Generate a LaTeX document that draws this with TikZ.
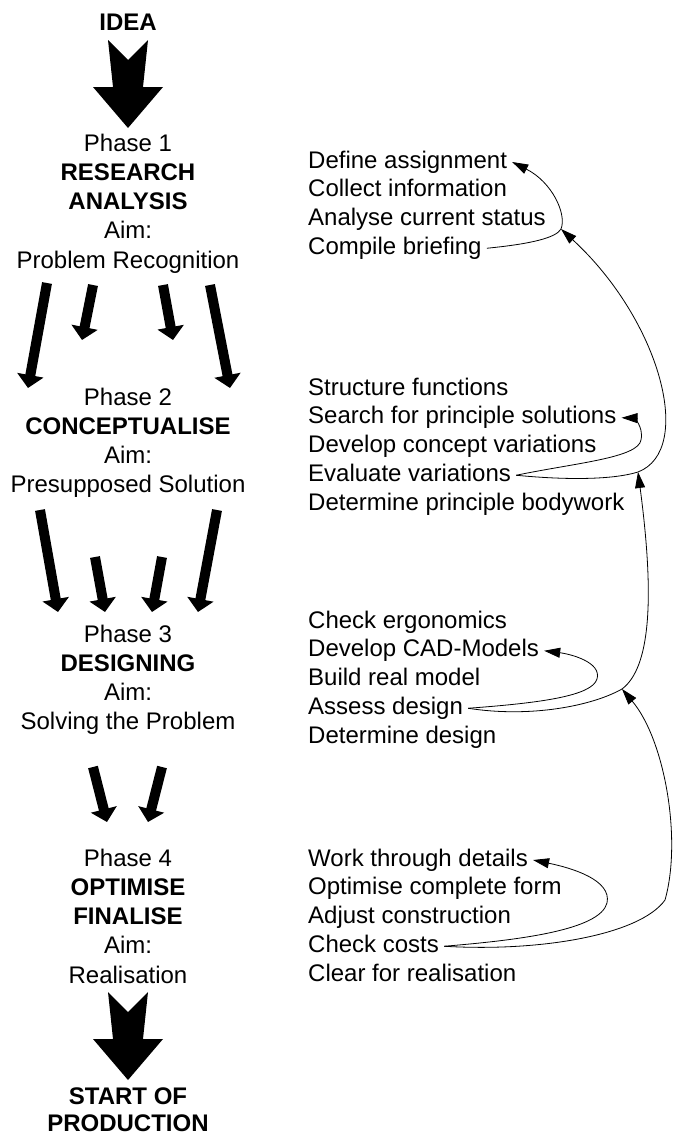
\documentclass[tikz,border=0pt]{standalone}
\usepackage{fontspec}
\setmainfont{Liberation Sans}
\usetikzlibrary{arrows.meta}
\begin{document}
\begin{tikzpicture}[x=1pt,y=-1pt,
  txt/.style={font=\fontsize{24}{28}\selectfont, inner xsep=5pt, inner ysep=0pt,
              text height=17pt, text depth=5pt},
  phase/.style={txt, anchor=base},
  task/.style={txt, anchor=base west},
  fat/.style={line width=10pt, -{Triangle[length=13pt 0 0,width=26pt 0 0]}},
  fb/.style={line width=0.8pt, -{Triangle[length=16pt 0 0,width=10pt 0 0]}},
  bigarrow/.pic={\fill (0,0) -- (35,-41) -- (15,-41) -- (20,-88) -- (0,-68)
                 -- (-20,-88) -- (-15,-41) -- (-35,-41) -- cycle;}]
\fill[white] (0,0) rectangle (672,1135);
\useasboundingbox (0,0) rectangle (672,1135);

% ---- process column ----
\node[phase] (idea) at (128,30) {\textbf{IDEA}};
\pic at (128,128) {bigarrow};

\node[phase] (p1)  at (128,151)    {Phase 1};
\node[phase] (p1a) at (128,180.25) {\textbf{RESEARCH}};
\node[phase] (p1b) at (128,209.5)  {\textbf{ANALYSIS}};
\node[phase] (p1c) at (128,238.75) {Aim:};
\node[phase] (p1d) at (128,268)    {Problem Recognition};

\node[phase] (p2)  at (128,405)    {Phase 2};
\node[phase] (p2a) at (128,434.25) {\textbf{CONCEPTUALISE}};
\node[phase] (p2b) at (128,463.5)  {Aim:};
\node[phase] (p2c) at (128,492.75) {Presupposed Solution};

\node[phase] (p3)  at (128,642)    {Phase 3};
\node[phase] (p3a) at (128,671.25) {\textbf{DESIGNING}};
\node[phase] (p3b) at (128,700.5)  {Aim:};
\node[phase] (p3c) at (128,729.75) {Solving the Problem};

\node[phase] (p4)  at (128,866)    {Phase 4};
\node[phase] (p4a) at (128,895.25) {\textbf{OPTIMISE}};
\node[phase] (p4b) at (128,924.5)  {\textbf{FINALISE}};
\node[phase] (p4c) at (128,953.75) {Aim:};
\node[phase] (p4d) at (128,983)    {Realisation};

\pic at (128,1080) {bigarrow};
\node[phase] (sop1) at (128,1104) {\textbf{START OF}};
\node[phase] (sop2) at (128,1131) {\textbf{PRODUCTION}};

% ---- transitions between phases ----
\coordinate (a1) at (47,283);  \coordinate (a2) at (28,388);
\coordinate (b1) at (93,285);  \coordinate (b2) at (82,340);
\coordinate (c1) at (163,285); \coordinate (c2) at (173,340);
\coordinate (d1) at (210,285); \coordinate (d2) at (230,388);
\coordinate (e1) at (40,510);  \coordinate (e2) at (58,612);
\coordinate (f1) at (95,557);  \coordinate (f2) at (105,612);
\coordinate (g1) at (162,557); \coordinate (g2) at (152,612);
\coordinate (h1) at (217,510); \coordinate (h2) at (198,612);
\coordinate (i1) at (93,767);  \coordinate (i2) at (107,822);
\coordinate (k1f) at (162,767); \coordinate (k2f) at (148,822);
\foreach \s/\t in {a1/a2,b1/b2,c1/c2,d1/d2,e1/e2,f1/f2,g1/g2,h1/h2,i1/i2,k1f/k2f}
  \draw[fat] (\s) -- (\t);

% ---- task lists ----
\node[task] (define) at (303,168)    {Define assignment};
\node[task] (collect) at (303,196.75) {Collect information};
\node[task] (analyse) at (303,225.5) {Analyse current status};
\node[task] (brief)  at (303,254.25) {Compile briefing};

\node[task] (struct) at (303,395)    {Structure functions};
\node[task] (search) at (303,423.75) {Search for principle solutions};
\node[task] (devcon) at (303,452.5)  {Develop concept variations};
\node[task] (eval)   at (303,481.25) {Evaluate variations};
\node[task] (body)   at (303,510)    {Determine principle bodywork};

\node[task] (ergo)   at (303,628)    {Check ergonomics};
\node[task] (cad)    at (303,656.75) {Develop CAD-Models};
\node[task] (model)  at (303,685.5)  {Build real model};
\node[task] (assess) at (303,714.25) {Assess design};
\node[task] (detdes) at (303,743)    {Determine design};

\node[task] (work)   at (303,866)    {Work through details};
\node[task] (optform) at (303,894.75) {Optimise complete form};
\node[task] (adjust) at (303,923.5)  {Adjust construction};
\node[task] (check)  at (303,952.25) {Check costs};
\node[task] (clear)  at (303,981)    {Clear for realisation};

% ---- feedback loops ----
\coordinate (j1) at (561,229);
\coordinate (k1) at (638,472);
\coordinate (k2) at (622,689);

\draw[fb] (brief.east) .. controls (530,244) and (556,238) .. (j1)
          .. controls (567,214) and (552,182) .. (define.east);
\draw[fb] (eval.east) .. controls (575,463) and (638,458) .. (641,440)
          .. controls (644,425) and (632,418) .. (search.east);
\draw[fb] (eval.east) .. controls (565,480) and (612,480) .. (k1)
          .. controls (695,450) and (660,320) .. (j1);
\draw[fb] (assess.east) .. controls (540,703) and (592,696) .. (597,679)
          .. controls (602,662) and (570,654) .. (cad.east);
\draw[fb] (assess.east) .. controls (530,718) and (592,706) .. (k2)
          .. controls (650,668) and (655,600) .. (k1);
\draw[fb] (check.east) .. controls (520,940) and (600,930) .. (607,903)
          .. controls (612,880) and (572,868) .. (work.east);
\draw[fb] (check.east) .. controls (540,952) and (640,935) .. (665,900)
          .. controls (682,840) and (665,740) .. (k2);
\end{tikzpicture}
\end{document}
